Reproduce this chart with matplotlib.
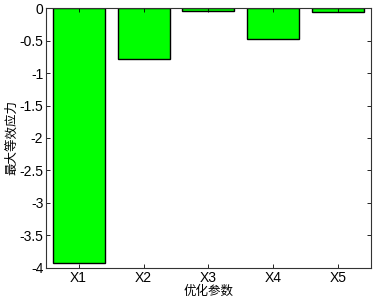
import matplotlib
matplotlib.use("Agg")
import matplotlib.pyplot as plt

plt.rcParams['font.family'] = ['Liberation Sans', 'Noto Sans CJK SC', 'DejaVu Sans']

# 数据
params = ["X1", "X2", "X3", "X4", "X5"]
stress = [-3.92, -0.785, -0.04, -0.48, -0.065]
yticks = [0, -0.5, -1, -1.5, -2, -2.5, -3, -3.5, -4]

fig = plt.figure(figsize=(3.78, 2.99), dpi=100)
ax = fig.add_axes([0.122, 0.104, 0.859, 0.869])

pos = list(range(1, len(params) + 1))
ax.bar(pos, stress, width=0.8, color="#00ff00", edgecolor="black", linewidth=1.0)

ax.set_xlim(0.5, 5.5)
ax.set_ylim(-4, 0)
ax.set_xticks(pos)
ax.set_xticklabels(params)
ax.set_yticks(yticks)
ax.set_yticklabels([f"{t:g}" for t in yticks])
ax.tick_params(direction="in", length=3, width=0.6, labelsize=10, top=True, right=True, pad=2)
for s in ax.spines.values():
    s.set_linewidth(0.8)
    s.set_color("#333333")

ax.set_xlabel("优化参数", fontsize=9, family=["Noto Sans CJK SC"], labelpad=0)
ax.set_ylabel("最大等效应力", fontsize=9, family=["Noto Sans CJK SC"], labelpad=1)

fig.savefig("out.png", dpi=100)
